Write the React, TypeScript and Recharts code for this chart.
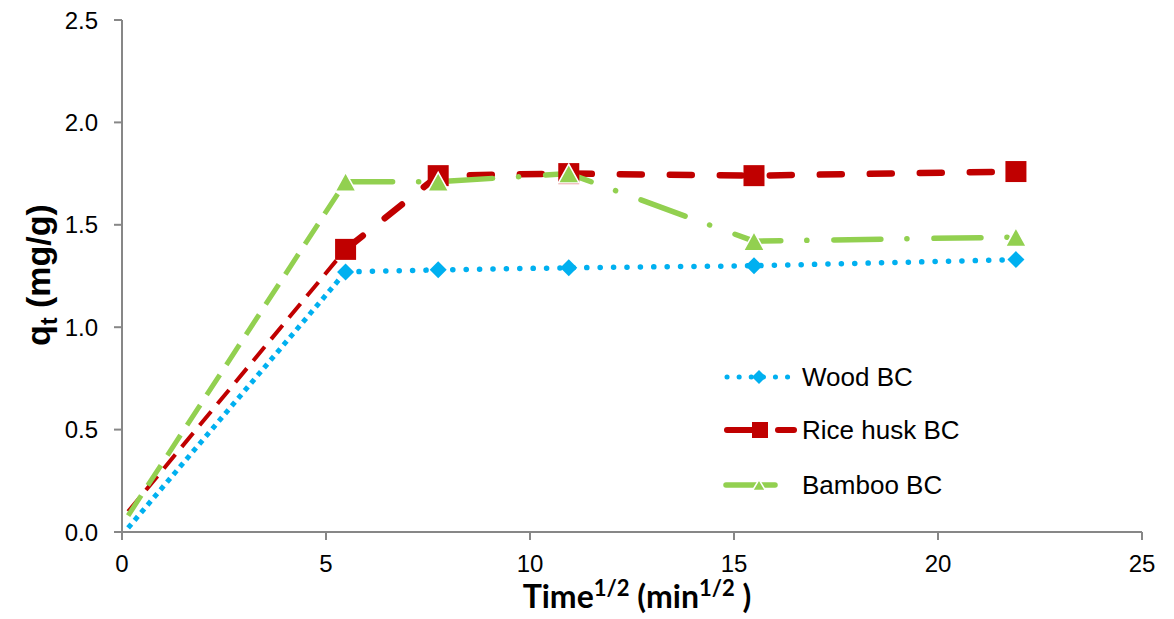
import React from 'react';
import { LineChart, Line, XAxis, YAxis } from 'recharts';

// sqrt(time) values, first point is the start of each curve
const xValues = [0.15, 5.48, 7.75, 10.95, 15.49, 21.91];
const woodBC = [0.02, 1.27, 1.28, 1.29, 1.3, 1.33];
const riceHuskBC = [0.1, 1.38, 1.74, 1.75, 1.74, 1.76];
const bambooBC = [0.08, 1.71, 1.71, 1.75, 1.42, 1.44];
const xTicks = [0, 5, 10, 15, 20, 25];
const yTicks = [0, 0.5, 1.0, 1.5, 2.0, 2.5];

const BLUE = '#00B0F0';
const RED = '#C00000';
const GREEN = '#92D050';
const AXIS = '#878787';
const FONT = '"Liberation Sans", Arial, sans-serif';

const toPoints = (ys: number[]) => xValues.map((x, i) => ({ x, y: ys[i] }));

const wood = toPoints(woodBC);
const rice = toPoints(riceHuskBC);
const bamboo = toPoints(bambooBC);

const Diamond = ({ cx, cy, r = 8.5 }: any) => (
  <path d={`M${cx},${cy - r}L${cx + r},${cy}L${cx},${cy + r}L${cx - r},${cy}Z`} fill={BLUE} />
);

const Square = ({ cx, cy, s = 21 }: any) => (
  <rect x={cx - s / 2} y={cy - s / 2} width={s} height={s} fill={RED} />
);

const Triangle = ({ cx, cy, w = 21, h = 19 }: any) => (
  <path
    d={`M${cx},${cy - h / 2}L${cx + w / 2},${cy + h / 2}L${cx - w / 2},${cy + h / 2}Z`}
    fill={GREEN}
    stroke="#fff"
    strokeWidth={1.5}
  />
);

const dotOf = (Shape: any) => (props: any) => {
  const { cx, cy, index } = props;
  if (cx == null || cy == null) return <g key={`d-${index}`} />;
  return <Shape key={`d-${index}`} cx={cx} cy={cy} />;
};

const YTitle = () => {
  const cx = 50;
  const cy = 275;
  return (
    <text
      x={cx}
      y={cy}
      transform={`rotate(-90, ${cx}, ${cy})`}
      textAnchor="middle"
      fontFamily={FONT}
      fontWeight="bold"
      fontSize={34}
      fill="#000"
    >
      q<tspan fontSize={23} dy={7}>t</tspan>
      <tspan dy={-7}> (mg/g)</tspan>
    </text>
  );
};

const XTitle = () => (
  <text
    x={637}
    y={608}
    textAnchor="middle"
    fontFamily="Lato, 'Open Sans', sans-serif"
    fontWeight="bold"
    fontSize={32}
    fill="#000"
  >
    Time<tspan fontSize={22} dy={-12}>1/2</tspan>
    <tspan dy={12}> (min</tspan>
    <tspan fontSize={22} dy={-12}>1/2</tspan>
    <tspan dy={12}> )</tspan>
  </text>
);

const LegendBox = () => (
  <svg
    width={300}
    height={160}
    style={{ position: 'absolute', left: 700, top: 350 }}
  >
    {/* Wood BC */}
    <line x1={27} y1={27} x2={97} y2={27} stroke={BLUE} strokeWidth={5} strokeDasharray="0.1 12" strokeLinecap="round" />
    <Diamond cx={59} cy={27} r={7} />
    <text x={102} y={36} fontFamily={FONT} fontSize={26} fill="#000">Wood BC</text>
    {/* Rice husk BC */}
    <line x1={27} y1={80} x2={52} y2={80} stroke={RED} strokeWidth={6} strokeLinecap="round" />
    <line x1={78} y1={80} x2={94} y2={80} stroke={RED} strokeWidth={6} strokeLinecap="round" />
    <Square cx={60} cy={80} s={16} />
    <text x={102} y={89} fontFamily={FONT} fontSize={26} fill="#000">Rice husk BC</text>
    {/* Bamboo BC */}
    <line x1={26} y1={135} x2={75} y2={135} stroke={GREEN} strokeWidth={5.5} strokeLinecap="round" />
    <Triangle cx={59} cy={135} w={13} h={11} />
    <text x={102} y={144} fontFamily={FONT} fontSize={26} fill="#000">Bamboo BC</text>
  </svg>
);

const App: React.FC = () => {
  return (
    <div style={{ position: 'absolute', left: 0, top: 0, width: 1174, height: 619, background: '#fff' }}>
      <LineChart
        width={1174}
        height={619}
        margin={{ top: 20, right: 32, bottom: 37, left: 0 }}
      >
        <XAxis
          type="number"
          dataKey="x"
          domain={[0, 25]}
          ticks={xTicks}
          interval={0}
          height={50}
          axisLine={{ stroke: AXIS, strokeWidth: 2 }}
          tickLine={{ stroke: AXIS, strokeWidth: 2 }}
          tickSize={8}
          tickMargin={15}
          tick={{ fill: '#000', fontSize: 24, fontFamily: FONT }}
          allowDataOverflow
        />
        <YAxis
          type="number"
          dataKey="y"
          domain={[0, 2.5]}
          ticks={yTicks}
          interval={0}
          width={122}
          axisLine={{ stroke: AXIS, strokeWidth: 2 }}
          tickLine={{ stroke: AXIS, strokeWidth: 2 }}
          tickSize={8}
          tickMargin={16}
          tick={{ fill: '#000', fontSize: 24, fontFamily: FONT }}
          tickFormatter={(v: number) => v.toFixed(1)}
          label={<YTitle />}
        />

        {/* first segments, drawn with their own dash style */}
        <Line
          data={wood.slice(0, 2)}
          dataKey="y"
          stroke={BLUE}
          strokeWidth={5}
          strokeDasharray="5 5"
          dot={false}
          activeDot={false}
          legendType="none"
          isAnimationActive={false}
        />
        <Line
          data={rice.slice(0, 2)}
          dataKey="y"
          stroke={RED}
          strokeWidth={4}
          strokeDasharray="18 10"
          dot={false}
          activeDot={false}
          legendType="none"
          isAnimationActive={false}
        />
        <Line
          data={bamboo.slice(0, 2)}
          dataKey="y"
          stroke={GREEN}
          strokeWidth={5}
          strokeDasharray="24 12"
          dot={false}
          activeDot={false}
          legendType="none"
          isAnimationActive={false}
        />

        <Line
          data={wood.slice(1)}
          dataKey="y"
          name="Wood BC"
          stroke={BLUE}
          strokeWidth={5.5}
          strokeDasharray="0.1 13.3"
          strokeLinecap="round"
          dot={dotOf(Diamond)}
          activeDot={false}
          isAnimationActive={false}
        />
        <Line
          data={rice.slice(1)}
          dataKey="y"
          name="Rice husk BC"
          stroke={RED}
          strokeWidth={6.5}
          strokeDasharray="22 28"
          strokeLinecap="round"
          dot={dotOf(Square)}
          activeDot={false}
          isAnimationActive={false}
        />
        <Line
          data={bamboo.slice(1)}
          dataKey="y"
          name="Bamboo BC"
          stroke={GREEN}
          strokeWidth={5.5}
          strokeDasharray="47 26 0.1 27"
          strokeLinecap="round"
          dot={dotOf(Triangle)}
          activeDot={false}
          isAnimationActive={false}
        />
        <XTitle />
      </LineChart>
      <LegendBox />
    </div>
  );
};

export default App;
